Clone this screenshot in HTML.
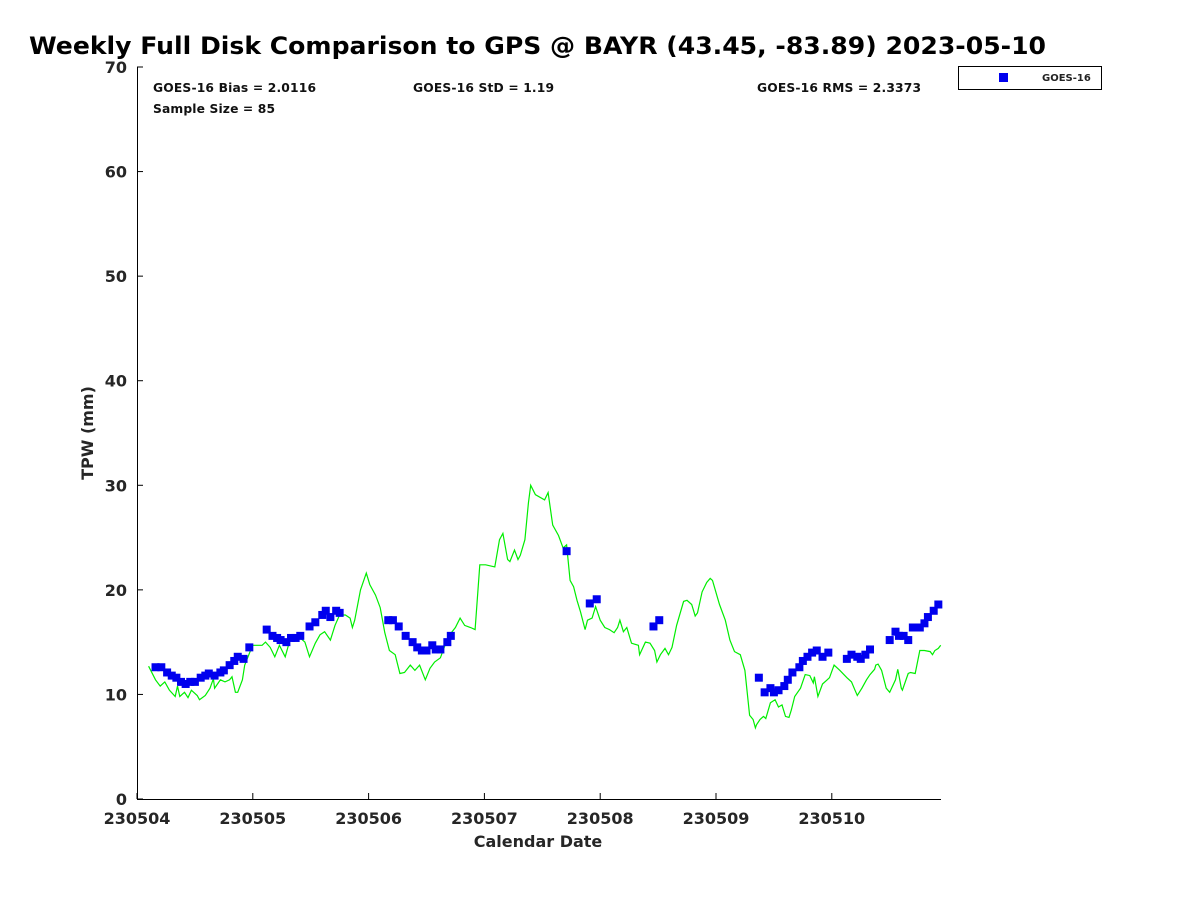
<!DOCTYPE html>
<html><head><meta charset="utf-8">
<style>
body{margin:0;background:#fff;}
svg{display:block;font-family:"DejaVu Sans","Liberation Sans",sans-serif;}
</style></head>
<body>
<svg id="chart" width="1200" height="900" viewBox="0 0 1200 900">
<text x="29" y="54" font-size="24" font-weight="bold" textLength="1017" lengthAdjust="spacingAndGlyphs">Weekly Full Disk Comparison to GPS @ BAYR (43.45, -83.89) 2023-05-10</text>
<g font-size="12.3" font-weight="bold" fill="#111">
<text x="153" y="92" textLength="163">GOES-16 Bias = 2.0116</text>
<text x="413" y="92" textLength="141">GOES-16 StD = 1.19</text>
<text x="757" y="92" textLength="164">GOES-16 RMS = 2.3373</text>
<text x="153" y="113" textLength="122">Sample Size = 85</text>
</g>
<g id="axes"></g>
<g id="gps"></g>
<g id="goes"></g>
<g>
<rect x="958.5" y="66.5" width="143" height="23" fill="#fff" stroke="#000"/>
<rect x="999" y="73" width="9" height="9" fill="#0000ee"/>
<text x="1042" y="81" font-size="10" font-weight="bold" fill="#222">GOES-16</text>
</g>
<text x="538" y="847" font-size="16" font-weight="bold" text-anchor="middle" fill="#262626">Calendar Date</text>
<text transform="translate(93,433) rotate(-90)" font-size="16" font-weight="bold" text-anchor="middle" fill="#262626">TPW (mm)</text>
</svg>
<script>
const xTickLabels = ["230504","230505","230506","230507","230508","230509","230510"];
const yTickValues = [0,10,20,30,40,50,60,70];
const gpsDays = [0.10,0.16,0.20,0.24,0.28,0.33,0.35,0.37,0.41,0.44,0.47,0.52,0.54,0.59,0.63,0.66,0.67,0.72,0.76,0.80,0.82,0.85,0.87,0.91,0.93,0.98,1.00,1.08,1.11,1.15,1.19,1.23,1.28,1.32,1.37,1.41,1.45,1.49,1.54,1.58,1.62,1.67,1.71,1.75,1.80,1.84,1.86,1.88,1.93,1.98,2.01,2.06,2.10,2.14,2.18,2.23,2.27,2.31,2.36,2.40,2.44,2.49,2.53,2.57,2.62,2.66,2.70,2.75,2.79,2.83,2.88,2.92,2.96,3.01,3.09,3.13,3.16,3.20,3.22,3.26,3.29,3.31,3.35,3.38,3.40,3.44,3.52,3.55,3.59,3.64,3.68,3.71,3.74,3.77,3.80,3.83,3.87,3.89,3.93,3.96,4.00,4.04,4.08,4.12,4.15,4.17,4.20,4.23,4.27,4.33,4.34,4.39,4.43,4.47,4.49,4.52,4.56,4.59,4.62,4.66,4.72,4.75,4.79,4.82,4.84,4.88,4.92,4.95,4.97,5.03,5.08,5.12,5.16,5.21,5.25,5.29,5.32,5.34,5.35,5.38,5.41,5.43,5.47,5.51,5.54,5.57,5.60,5.63,5.65,5.68,5.73,5.77,5.81,5.84,5.85,5.88,5.92,5.96,5.98,6.02,6.07,6.13,6.17,6.20,6.22,6.26,6.30,6.33,6.37,6.38,6.40,6.43,6.47,6.50,6.55,6.57,6.60,6.61,6.66,6.68,6.72,6.76,6.80,6.85,6.87,6.89,6.92,6.94];
const gpsTpw = [12.7,11.4,10.8,11.2,10.4,9.8,10.8,9.8,10.2,9.7,10.4,9.9,9.5,9.9,10.6,11.5,10.6,11.4,11.2,11.4,11.7,10.2,10.2,11.4,12.8,14.2,14.7,14.7,15.0,14.5,13.6,14.7,13.6,15.2,15.5,15.4,15.0,13.6,14.9,15.7,16.0,15.2,16.6,17.6,17.6,17.3,16.4,17.1,20.0,21.6,20.5,19.5,18.3,15.9,14.2,13.8,12.0,12.1,12.8,12.3,12.8,11.4,12.5,13.1,13.5,14.7,15.7,16.4,17.3,16.6,16.4,16.2,22.4,22.4,22.2,24.8,25.4,22.9,22.7,23.8,22.9,23.3,24.8,28.3,30.0,29.1,28.6,29.3,26.2,25.2,24.0,24.3,20.9,20.3,19.0,17.9,16.2,17.1,17.3,18.4,17.1,16.4,16.2,15.9,16.4,17.1,16.0,16.4,14.9,14.7,13.8,15.0,14.9,14.2,13.1,13.8,14.4,13.8,14.5,16.6,18.9,19.0,18.6,17.5,17.8,19.8,20.7,21.1,20.9,18.6,17.1,15.2,14.1,13.8,12.3,8.0,7.6,6.8,7.1,7.6,7.9,7.7,9.2,9.5,8.8,9.0,7.9,7.8,8.5,9.8,10.6,11.9,11.8,11.1,11.7,9.8,11.0,11.4,11.6,12.8,12.3,11.6,11.2,10.4,9.9,10.6,11.4,11.9,12.4,12.8,12.9,12.3,10.6,10.2,11.4,12.4,10.6,10.4,12.0,12.1,12.0,14.2,14.2,14.1,13.8,14.2,14.4,14.7];
const goesDays = [0.16,0.21,0.26,0.30,0.34,0.38,0.42,0.46,0.50,0.55,0.59,0.62,0.67,0.72,0.75,0.80,0.84,0.87,0.92,0.97,1.12,1.17,1.21,1.24,1.29,1.33,1.37,1.41,1.49,1.54,1.60,1.63,1.67,1.72,1.75,2.17,2.21,2.26,2.32,2.38,2.42,2.46,2.50,2.55,2.58,2.62,2.68,2.71,3.71,3.91,3.97,4.46,4.51,5.37,5.42,5.47,5.50,5.54,5.59,5.62,5.66,5.72,5.75,5.79,5.83,5.87,5.92,5.97,6.13,6.17,6.22,6.25,6.29,6.33,6.50,6.55,6.58,6.62,6.66,6.70,6.76,6.80,6.83,6.88,6.92];
const goesTpw = [12.6,12.6,12.1,11.8,11.6,11.2,11.0,11.2,11.2,11.6,11.8,12.0,11.8,12.1,12.3,12.8,13.2,13.6,13.4,14.5,16.2,15.6,15.4,15.2,15.0,15.4,15.4,15.6,16.5,16.9,17.6,18.0,17.4,18.0,17.8,17.1,17.1,16.5,15.6,15.0,14.5,14.2,14.2,14.7,14.3,14.3,15.0,15.6,23.7,18.7,19.1,16.5,17.1,11.6,10.2,10.6,10.2,10.4,10.8,11.4,12.1,12.6,13.2,13.6,14.0,14.2,13.6,14.0,13.4,13.8,13.6,13.4,13.8,14.3,15.2,16.0,15.6,15.6,15.2,16.4,16.4,16.8,17.4,18.0,18.6];

const NS="http://www.w3.org/2000/svg";
const X0=137,X1=941,Y0=799,Y1=67,DAYPX=115.8;
function xs(d){return X0+d*DAYPX;}
function ys(v){return Y0-(v/70)*(Y0-Y1);}
function mk(tag,attrs,parent){const e=document.createElementNS(NS,tag);for(const k in attrs)e.setAttribute(k,attrs[k]);parent.appendChild(e);return e;}

const axes=document.getElementById('axes');
const frame=mk('path',{d:`M${X0+.5},${Y1}V${Y0+.5}H${X1}`,fill:'none',stroke:'#000','stroke-width':1},axes);


xTickLabels.forEach((lab,i)=>{
  const x=xs(i);
  const t=mk('line',{x1:x,x2:x,y1:Y0,y2:Y0-6,stroke:'#000'},axes);
  
  
  const tx=mk('text',{x:x,y:Y0+25,'font-size':16,'font-weight':'bold','text-anchor':'middle',fill:'#262626'},axes);
  tx.textContent=lab;
  
  
});
yTickValues.forEach(v=>{
  const y=ys(v);
  const t=mk('line',{x1:X0,x2:X0+6,y1:y,y2:y,stroke:'#000'},axes);
  
  
  const tx=mk('text',{x:X0-10,y:y+6,'font-size':16,'font-weight':'bold','text-anchor':'end',fill:'#262626'},axes);
  tx.textContent=v;
  
  
});

const gps=document.getElementById('gps');
const pl=mk('polyline',{points:gpsDays.map((d,i)=>xs(d).toFixed(1)+','+ys(gpsTpw[i]).toFixed(1)).join(' '),fill:'none',stroke:'#00ee00','stroke-width':1.2},gps);



const goes=document.getElementById('goes');
goesDays.forEach((d,i)=>{
  const r=mk('rect',{x:xs(d)-4,y:ys(goesTpw[i])-4,width:8,height:8,fill:'#0000ee'},goes);
  
  
});
</script>
</body></html>
